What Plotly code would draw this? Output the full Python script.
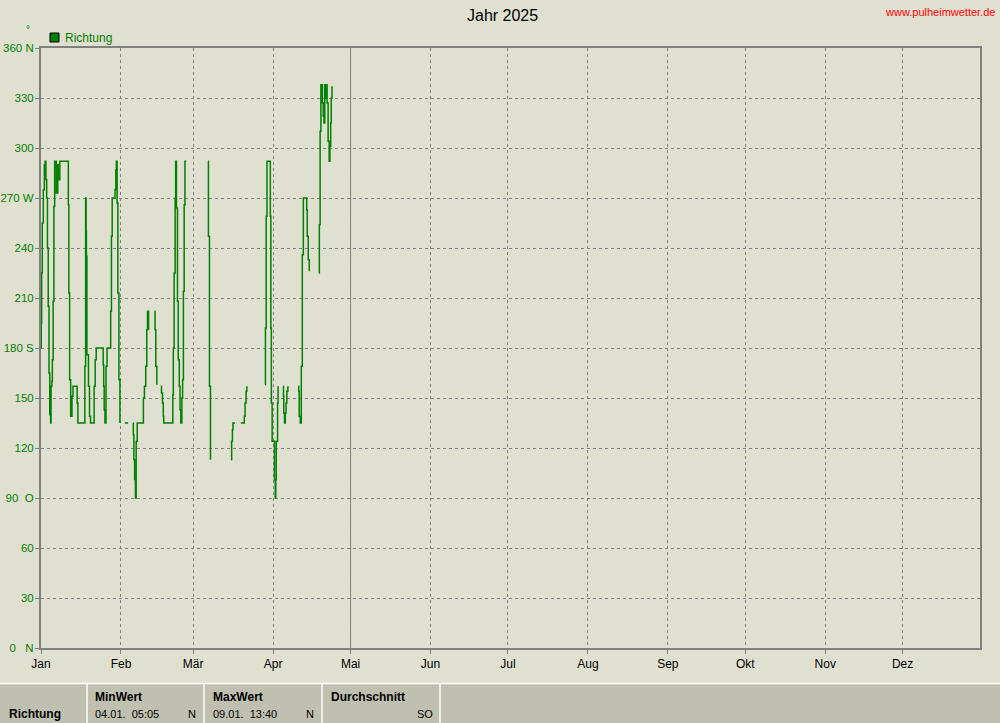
import plotly.graph_objects as go

# ---- data (day of year, 0 = 1 Jan 00:00) ; None = gap in recording ----
days = [
    0.0, 0.1, 0.25, 0.5, 0.9, 1.3, 1.6, 1.9, 2.2, 2.5, 2.8, 3.1, 3.4, 3.75, 3.9, 4.2, 4.4, 4.7,
    5.0, 5.3, 5.6, 5.9, 6.3, 6.5, 6.7, 7.0, 7.3, 10.2, 10.6, 10.8, 11.1, 11.5, 12.0, 12.4, 13.7,
    14.0, 14.3, 16.8, 17.0, 17.3, 17.5, 17.6, 17.8, 18.4, 18.8, 19.2, 20.3, 20.6, 21.0, 21.4,
    23.9, 24.1, 24.3, 24.5, 24.8, 25.2, 25.6, 26.8, 27.0, 27.3, 27.6, 28.4, 28.7, 29.0, 29.2,
    29.5, 29.8, 30.2, 30.6, None,
    32.5, 33.8, None,
    35.7, 35.8, 36.0, 36.3, 36.6, 36.9, 37.3, 39.5, 39.7, 40.1, 40.6, 41.0, 41.3, 41.6, 41.7, None,
    44.0, 44.2, 44.5, 44.9, None,
    46.5, 46.7, 47.1, 47.4, 47.6, 50.9, 51.1, 51.3, 51.6, 52.0, 52.2, 52.5, 52.9, 53.2, 53.6,
    53.9, 54.2, 54.6, 54.9, 55.2, 55.5, 55.8, 56.3, None,
    64.7, 64.9, 65.3, 65.7, None,
    73.7, 73.9, 74.2, 74.4, 75.2, None,
    77.5, 78.7, 78.8, 79.1, 79.5, 79.8, None,
    86.9, 87.0, 87.3, 87.6, 88.7, 88.9, 89.1, 89.3, 89.6, 90.3, 90.5, 90.8, 91.0, 91.2, 91.5,
    91.7, 91.9, None,
    93.9, 94.0, 94.1, 94.4, 94.7, 95.0, 95.3, 95.7, None,
    99.7, 99.9, 100.1, 100.5, 100.9, 101.3, 101.7, 102.8, 103.0, 103.2, 103.6, 104.0, None,
    107.7, 107.9, 108.2, 108.5, 108.9, 109.1, 109.4, 109.7, 110.0, 110.3, 110.5, 110.7, 110.9,
    111.3, 111.7, 112.0, 112.3, 112.5, 112.8,
]
richtung = [
    180, 195, 225, 255, 275, 290, 292, 281, 270, 240, 205, 165, 140, 135, 157, 160, 173, 208,
    265, 292, 292, 273, 273, 290, 281, 281, 292, 292, 266, 213, 161, 139, 151, 157, 157,
    147, 135, 135, 169, 270, 250, 235, 176, 157, 139, 135, 135, 157, 173, 180,
    180, 170, 157, 143, 135, 169, 180, 180, 202, 247, 270, 270, 275, 287, 292,
    267, 213, 161, 135, None,
    135, 135, None,
    135, 128, 113, 101, 90, 124, 135, 135, 150, 157, 169, 191, 202, 202, 191, None,
    202, 191, 169, 158, None,
    157, 153, 147, 139, 135, 135, 152, 180, 225, 270, 292, 264, 208, 173, 157,
    143, 135, 150, 161, 214, 266, 292, 292, None,
    292, 247, 157, 113, None,
    113, 124, 131, 135, 135, None,
    135, 135, 139, 147, 154, 157, None,
    158, 192, 259, 292, 292, 259, 192, 147, 124, 124, 101, 90, 101, 124, 124,
    147, 157, None,
    157, 151, 141, 135, 141, 147, 154, 157, None,
    157, 154, 139, 135, 169, 236, 270, 270, 263, 247, 233, 226, None,
    225, 254, 310, 338, 338, 327, 319, 315, 338, 338, 330, 338, 327,
    304, 292, 301, 315, 330, 337,
]

month_start = [0, 31, 59, 90, 120, 151, 181, 212, 243, 273, 304, 334]
month_labels = ["Jan", "Feb", "Mär", "Apr", "Mai", "Jun", "Jul", "Aug", "Sep", "Okt", "Nov", "Dez"]
y_ticks = [0, 30, 60, 90, 120, 150, 180, 210, 240, 270, 300, 330, 360]
NB = "\u00a0"
y_labels = ["0" + NB * 3 + "N", "30", "60", "90" + NB * 2 + "O", "120", "150", "180 S",
            "210", "240", "270 W", "300", "330", "360 N"]

table_headers = ["MinWert", "MaxWert", "Durchschnitt"]
table_values = ["04.01." + NB * 2 + "05:05", "09.01." + NB * 2 + "13:40", ""]
table_dirs = ["N", "N", "SO"]

# ---- figure ----
BG = "rgb(224,224,209)"
BAR = "rgb(192,192,176)"
GREEN = "#008000"
GRAY = "#808080"
FONT = "Liberation Sans, Arial, sans-serif"

W, H = 1000, 723
L, R, T, B = 41, 20, 48, 75
PW, PH = W - L - R, H - T - B


def px(x):
    return (x - L) / PW


def py(y):
    return (H - B - y) / PH


fig = go.Figure()
fig.add_trace(go.Scatter(
    x=days, y=richtung, mode="lines", connectgaps=False,
    line=dict(color=GREEN, width=1.5, shape="hv"), name="Richtung", showlegend=False,
))

fig.update_layout(
    width=W, height=H, margin=dict(l=L, r=R, t=T, b=B, autoexpand=False),
    paper_bgcolor=BG, plot_bgcolor=BG,
    font=dict(family=FONT, size=12, color="black"),
    showlegend=False,
)
fig.update_xaxes(
    range=[0, 364], tickvals=month_start, ticktext=month_labels,
    showgrid=True, gridcolor=GRAY, gridwidth=1, griddash="3px,3px",
    ticks="outside", ticklen=4, tickcolor=GRAY,
    showline=True, linecolor=GRAY, linewidth=2, mirror=True,
    zeroline=False, tickfont=dict(color="black", size=12, family=FONT),
    fixedrange=True, automargin=False,
)
fig.update_yaxes(
    range=[0, 360], tickvals=y_ticks, ticktext=y_labels,
    showgrid=True, gridcolor=GRAY, gridwidth=1, griddash="3px,3px",
    ticks="outside", ticklen=4, tickcolor=GRAY,
    showline=True, linecolor=GRAY, linewidth=2, mirror=True,
    zeroline=False, tickfont=dict(color=GREEN, size=11.5, family=FONT),
    ticklabelstandoff=-1,
    fixedrange=True, automargin=False,
)

shapes = []
# solid marker line at 1 May
shapes.append(dict(type="line", xref="x", yref="paper", x0=120, x1=120, y0=0, y1=1,
                   line=dict(color=GRAY, width=1)))
# legend swatch
shapes.append(dict(type="rect", xref="paper", yref="paper",
                   x0=px(50), x1=px(59), y0=py(42), y1=py(33),
                   fillcolor=GREEN, line=dict(color="black", width=1)))
# bottom table bar
shapes.append(dict(type="rect", xref="paper", yref="paper",
                   x0=px(0), x1=px(1000), y0=py(723), y1=py(683),
                   fillcolor=BAR, line=dict(width=0), layer="below"))
shapes.append(dict(type="line", xref="paper", yref="paper",
                   x0=px(0), x1=px(1000), y0=py(683.5), y1=py(683.5),
                   line=dict(color="white", width=1.5)))
for sx in [87, 204, 322, 440]:
    shapes.append(dict(type="line", xref="paper", yref="paper",
                       x0=px(sx), x1=px(sx), y0=py(723), y1=py(683.5),
                       line=dict(color="white", width=1.5)))

ann = []
ann.append(dict(text="Jahr 2025", x=px(502), y=py(15), xref="paper", yref="paper",
                showarrow=False, font=dict(size=16, color="black", family=FONT),
                xanchor="center", yanchor="middle"))
ann.append(dict(text="www.pulheimwetter.de", x=px(997), y=py(12), xref="paper", yref="paper",
                showarrow=False, font=dict(size=11, color="red", family=FONT),
                xanchor="right", yanchor="middle"))
ann.append(dict(text="°", x=px(28), y=py(30), xref="paper", yref="paper",
                showarrow=False, font=dict(size=10, color=GREEN, family=FONT),
                xanchor="center", yanchor="middle"))
ann.append(dict(text="Richtung", x=px(63), y=py(38), xref="paper", yref="paper",
                showarrow=False, font=dict(size=12, color=GREEN, family=FONT),
                xanchor="left", yanchor="middle"))
ann.append(dict(text="<b>Richtung</b>", x=px(7), y=py(714), xref="paper", yref="paper",
                showarrow=False, font=dict(size=12, color="black", family=FONT),
                xanchor="left", yanchor="middle"))
cells = [(93, 198), (211, 316), (329, 435)]
for (cx, rx), hdr, val, d in zip(cells, table_headers, table_values, table_dirs):
    ann.append(dict(text="<b>" + hdr + "</b>", x=px(cx), y=py(697), xref="paper", yref="paper",
                    showarrow=False, font=dict(size=12, color="black", family=FONT),
                    xanchor="left", yanchor="middle"))
    if val:
        ann.append(dict(text=val, x=px(cx), y=py(714), xref="paper", yref="paper",
                        showarrow=False, font=dict(size=11, color="black", family=FONT),
                        xanchor="left", yanchor="middle"))
    ann.append(dict(text=d, x=px(rx), y=py(714), xref="paper", yref="paper",
                    showarrow=False, font=dict(size=11, color="black", family=FONT),
                    xanchor="right", yanchor="middle"))

fig.update_layout(shapes=shapes, annotations=ann)

fig.write_html("out.html", config={"displayModeBar": False},
               post_script="document.body.style.margin='0';")
